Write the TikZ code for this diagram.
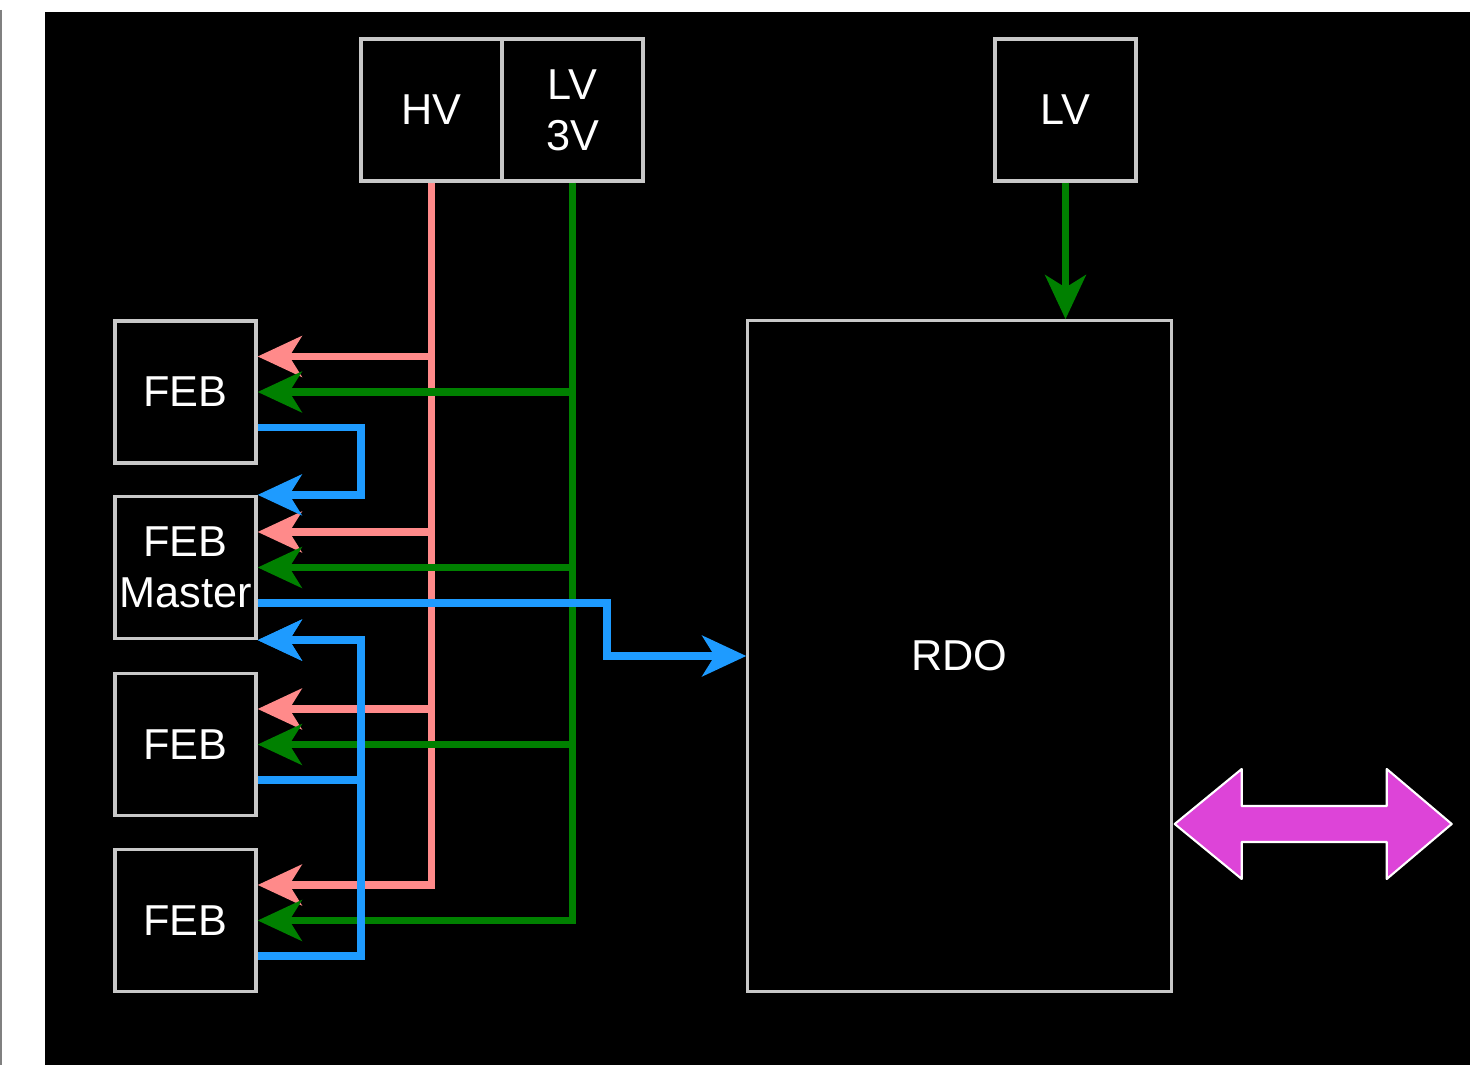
\documentclass[tikz,border=0pt]{standalone}
\usepackage{fontspec}
\setmainfont{Liberation Sans}
\usetikzlibrary{arrows.meta}

\definecolor{hvred}{HTML}{FF8A8A}
\definecolor{lvgreen}{HTML}{008000}
\definecolor{datablue}{HTML}{1E9BFF}
\definecolor{linkpink}{HTML}{DD44D8}
\definecolor{boxgrey}{HTML}{C8C8C8}

\begin{document}
\begin{tikzpicture}[x=0.01cm,y=-0.01cm,
  >={Stealth[length=12.5pt,width=11.5pt,inset=3.5pt]},
  unit/.style={draw=boxgrey,line width=0.9pt,text=white,inner sep=0pt,
    minimum width=1.41cm,minimum height=1.42cm,align=center,
    font=\fontsize{12.3}{14.5}\selectfont},
  hvwire/.style={->,draw=hvred,line width=2.2pt},
  lvwire/.style={->,draw=lvgreen,line width=2.2pt},
  datawire/.style={->,draw=datablue,line width=2.2pt}]

\useasboundingbox (0,0) rectangle (1470,1065);
\fill[white] (0,0) rectangle (1470,1065);
\fill[black] (45,12) rectangle (1470,1065);
\draw[gray,line width=0.5pt] (1,10) -- (1,1065);

\node[unit] (hv) at (431.5,110) {HV};
\node[unit] (lv3) at (572.5,110) {LV\\3V};
\node[unit] (lv) at (1065.5,110) {LV};

\node[unit] (feb1) at (185.5,392) {FEB};
\node[unit] (febm) at (185.5,567.5) {FEB\\Master};
\node[unit] (feb3) at (185.5,744.5) {FEB};
\node[unit] (feb4) at (185.5,920.5) {FEB};

\node[unit,minimum width=4.23cm,minimum height=6.7cm] (rdo) at (959.5,656) {RDO};

\foreach \f in {feb1,febm,feb3,feb4}{
  \coordinate (\f-hv) at ([yshift=3.55mm]\f.east);
  \coordinate (\f-out) at ([yshift=-3.55mm]\f.east);
}

\draw[hvwire] (hv.south) |- (feb4-hv);
\draw[lvwire] (lv3.south) |- (feb4.east);
\foreach \f in {feb1,febm,feb3}{
  \draw[hvwire] (hv.south |- \f-hv) -- (\f-hv);
  \draw[lvwire] (lv3.south |- \f.east) -- (\f.east);
}

\coordinate (dbus) at (361,0);
\coordinate (mbend) at (607,0);
\draw[datawire] (feb1-out) -| (dbus |- febm.north east) -- (febm.north east);
\draw[datawire] (feb3-out) -| (dbus |- febm.south east) -- (febm.south east);
\draw[datawire] (feb4-out) -| (dbus |- febm.south east) -- (febm.south east);
\draw[datawire] (febm-out) -| (mbend |- rdo.west) -- (rdo.west);

\draw[lvwire] (lv.south) -- (lv.south |- rdo.north);

\filldraw[fill=linkpink,draw=white,line width=0.6pt,line join=round]
  (rdo.east |- 0,824) ++(2,0) -- ++(67,-55) -- ++(0,37) -- ++(145,0)
  -- ++(0,-37) -- ++(65,55) -- ++(-65,55) -- ++(0,-37) -- ++(-145,0)
  -- ++(0,37) -- cycle;
\end{tikzpicture}
\end{document}
